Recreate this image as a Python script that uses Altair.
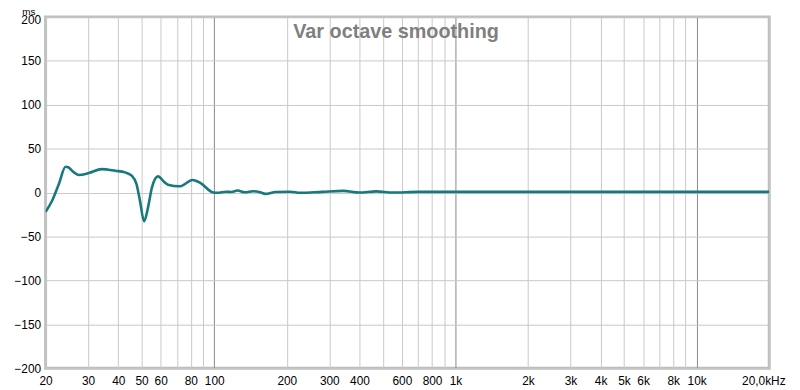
import altair as alt
import pandas as pd

freq = [20.0, 21.3, 22.7, 24.2, 24.8, 26.2, 27.5, 30.2, 34.2, 38.9, 42.7, 45.5, 47.6, 49.2,
        51.2, 53.2, 55.2, 58.5, 62.3, 64.3, 71.8, 81.4, 88.1, 98.4, 103, 112, 118, 125, 134,
        145, 155, 163, 180, 207, 227, 280, 343, 400, 470, 550, 700, 1000, 2000, 5000, 10000, 20000]
delay_ms = [-22, -9, 9.8, 29.3, 28.8, 23, 20, 22.2, 26.7, 24.8, 23, 19.2, 9.8, -9,
            -32.7, -16.6, 6, 18.4, 11.6, 9, 7.1, 14.3, 10.5, 0.4, -0.3, 1, 0.6, 2.3, 0.3,
            1.5, 0.3, -1.5, 0.7, 1, -0.3, 0.8, 1.9, 0, 1.4, 0, 0.8, 0.8, 0.8, 0.8, 0.8, 0.8]

grid_vals = ([v for v in range(20, 100, 10)] + [v for v in range(100, 1000, 100)]
             + [v for v in range(1000, 10000, 1000)] + [10000, 20000])
label_vals = [20, 30, 40, 50, 60, 80, 100, 200, 300, 400, 600, 800,
              1000, 2000, 3000, 4000, 5000, 6000, 8000, 10000, 20000]
y_vals = [-200, -150, -100, -50, 0, 50, 100, 150, 200]

title_text = "Var octave smoothing"
unit_text = "ms"

df = pd.DataFrame({"f": freq, "d": delay_ms})

label_list = "[" + ",".join(str(v) for v in label_vals) + "]"
label_expr = (
    f"indexof({label_list}, datum.value) < 0 ? '' : "
    "(datum.value >= 20000 ? '20,0kHz' : (datum.value >= 1000 ? (datum.value/1000) + 'k' : datum.value + ''))"
)

font = "Liberation Sans"

x_enc = alt.X(
    "f:Q",
    scale=alt.Scale(type="log", domain=[20, 20000], nice=False),
    axis=alt.Axis(
        values=grid_vals,
        labelExpr=label_expr,
        title=None,
        ticks=False,
        domain=False,
        labelOverlap=False,
        labelFlush=False,
        labelBound=False,
        labelPadding=7,
        labelFont=font,
        labelFontSize=12,
        labelColor="#000000",
        labelAlign=alt.condition("datum.value == 20000", alt.value("right"), alt.value("center")),
        labelOffset=alt.condition("datum.value == 20000", alt.value(16), alt.value(0)),
        grid=True,
        gridColor=alt.condition(
            "datum.value == 100 || datum.value == 1000 || datum.value == 10000",
            alt.value("#8a8a8a"),
            alt.value("#c8c8c8"),
        ),
        gridWidth=1,
    ),
)
y_enc = alt.Y(
    "d:Q",
    scale=alt.Scale(domain=[-200, 200], nice=False, zero=False),
    axis=alt.Axis(
        values=y_vals,
        title=None,
        ticks=False,
        domain=False,
        labelPadding=5,
        labelFont=font,
        labelFontSize=12,
        labelColor="#000000",
        labelOffset=alt.condition("datum.value == 200", alt.value(3), alt.value(0)),
        gridColor="#c8c8c8",
        gridWidth=1,
    ),
)

line = alt.Chart(df).mark_line(
    color="#17797b", strokeWidth=2.6, interpolate="monotone", clip=True
).encode(x=x_enc, y=y_enc)

title = alt.Chart(pd.DataFrame({"t": [title_text]})).mark_text(
    font=font, fontSize=20, fontWeight="bold", color="#7f7f7f", align="center", baseline="alphabetic"
).encode(text="t:N", x=alt.value(354), y=alt.value(21))

unit = alt.Chart(pd.DataFrame({"t": [unit_text]})).mark_text(
    font=font, fontSize=10, color="#000000", align="center", baseline="alphabetic"
).encode(text="t:N", x=alt.value(-17), y=alt.value(-2))

chart = (
    alt.layer(line, title, unit)
    .properties(
        width=731,
        height=355,
        autosize=alt.AutoSizeParams(type="none"),
        padding={"left": 38, "top": 7, "right": 23, "bottom": 21},
        background="#ffffff",
    )
    .configure_view(stroke="#bdbdbd", strokeWidth=3, fill="#ffffff")
)

chart.save("out.html", embed_options={"renderer": "svg", "actions": False})
